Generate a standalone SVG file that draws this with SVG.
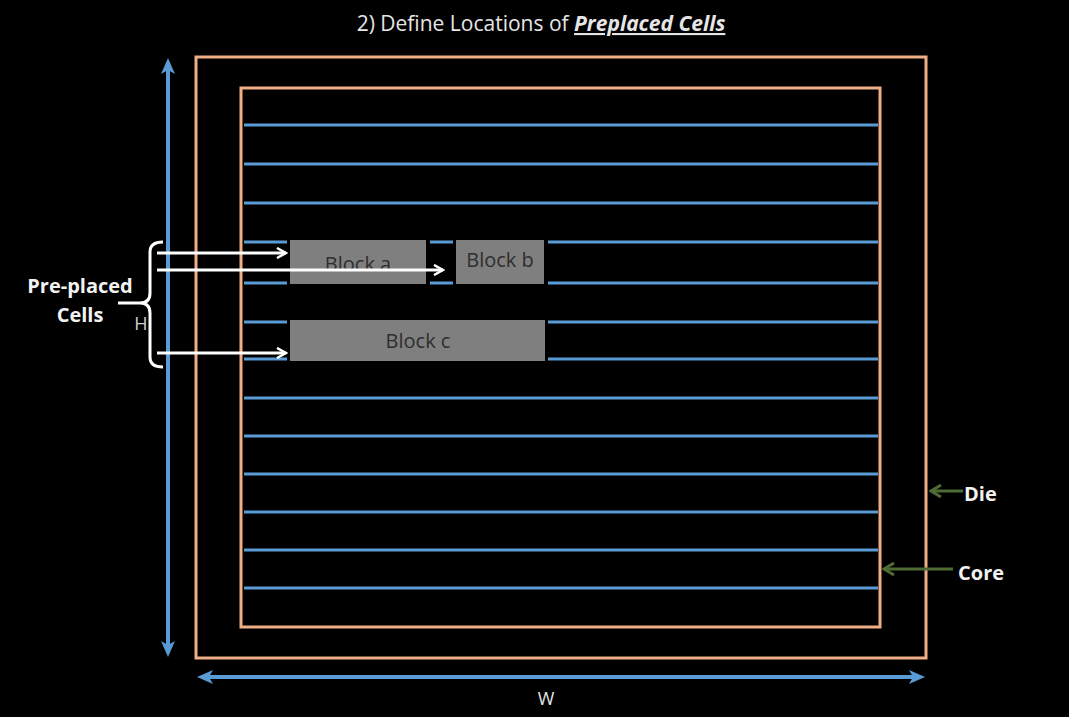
<svg xmlns="http://www.w3.org/2000/svg" width="1069" height="717" viewBox="0 0 1069 717">
<style>
.die{fill:none;stroke:#efae86;stroke-width:3}
.row{stroke:#5b9bd5;stroke-width:3}
.blk{fill:#7f7f7f}
.bt{font-family:"Open Sans","Liberation Sans",sans-serif;font-size:20px;fill:#2e2e2e;text-anchor:middle}
.lbl{font-family:"Open Sans","Liberation Sans",sans-serif;font-weight:bold;font-size:20px;fill:#f2f2f2}
.wa{stroke:#fff;stroke-width:3;fill:none}
.ga{stroke:#4e6b34;stroke-width:3;fill:none}
.dim{stroke:#5b9bd5;stroke-width:4;fill:none}
</style>
<defs>
<marker id="wh" viewBox="0 0 12 12" refX="10" refY="6" markerWidth="12" markerHeight="12" markerUnits="userSpaceOnUse" orient="auto"><path d="M1,1 L10,6 L1,11" fill="none" stroke="#fff" stroke-width="2.5"/></marker>
<marker id="gh" viewBox="0 0 14 14" refX="12" refY="7" markerWidth="14" markerHeight="14" markerUnits="userSpaceOnUse" orient="auto"><path d="M2,1 L12,7 L2,13" fill="none" stroke="#4e6b34" stroke-width="3"/></marker>
</defs>
<rect width="1069" height="717" fill="#000"/>
<text x="541" y="31" font-family="Open Sans,Liberation Sans,sans-serif" font-size="21" fill="#e6e6e6" text-anchor="middle">2) Define Locations of <tspan font-weight="bold" font-style="italic" text-decoration="underline">Preplaced Cells</tspan></text>
<g id="die"><rect class="die" x="196" y="57" width="730" height="601"/></g>
<g id="core"><rect class="die" x="241" y="88" width="639" height="539"/></g>
<g id="rows">
<line class="row" x1="244" y1="125" x2="878" y2="125"/>
<line class="row" x1="244" y1="164" x2="878" y2="164"/>
<line class="row" x1="244" y1="203" x2="878" y2="203"/>
<line class="row" x1="244" y1="242" x2="287" y2="242"/>
<line class="row" x1="430" y1="242" x2="453" y2="242"/>
<line class="row" x1="548" y1="242" x2="878" y2="242"/>
<line class="row" x1="244" y1="283" x2="287" y2="283"/>
<line class="row" x1="430" y1="283" x2="453" y2="283"/>
<line class="row" x1="548" y1="283" x2="878" y2="283"/>
<line class="row" x1="244" y1="322" x2="287" y2="322"/>
<line class="row" x1="548" y1="322" x2="878" y2="322"/>
<line class="row" x1="244" y1="359" x2="287" y2="359"/>
<line class="row" x1="548" y1="359" x2="878" y2="359"/>
<line class="row" x1="244" y1="398" x2="878" y2="398"/>
<line class="row" x1="244" y1="436" x2="878" y2="436"/>
<line class="row" x1="244" y1="474" x2="878" y2="474"/>
<line class="row" x1="244" y1="512" x2="878" y2="512"/>
<line class="row" x1="244" y1="550" x2="878" y2="550"/>
<line class="row" x1="244" y1="588" x2="878" y2="588"/>
</g>
<g id="block-a"><rect class="blk" x="290" y="240" width="136" height="44"/><text class="bt" x="358" y="271">Block a</text></g>
<g id="block-b"><rect class="blk" x="456" y="240" width="88" height="44"/><text class="bt" x="500" y="267">Block b</text></g>
<g id="block-c"><rect class="blk" x="290" y="320" width="255" height="41"/><text class="bt" x="418" y="348">Block c</text></g>
<g id="connectors">
<line class="dim" x1="168" y1="62" x2="168" y2="653"/>
<path d="M168,58 L161,74 L168,70 L175,74 Z" fill="#5b9bd5"/>
<path d="M168,657 L161,641 L168,645 L175,641 Z" fill="#5b9bd5"/>
<line class="dim" x1="202" y1="677" x2="920" y2="677"/>
<path d="M197,677 L213,670 L209,677 L213,684 Z" fill="#5b9bd5"/>
<path d="M925,677 L909,670 L913,677 L909,684 Z" fill="#5b9bd5"/>
<path class="wa" d="M163,242 Q150,242 150,252 L150,293 Q150,303 140,303 Q150,303 150,313 L150,357 Q150,367 163,367" stroke-width="2.5"/>
<line class="wa" x1="118" y1="303" x2="140" y2="303" stroke-width="2.5"/>
<line class="wa" x1="157" y1="253" x2="286" y2="253" marker-end="url(#wh)"/>
<line class="wa" x1="157" y1="270" x2="443" y2="270" marker-end="url(#wh)"/>
<line class="wa" x1="157" y1="353" x2="286" y2="353" marker-end="url(#wh)"/>
<line class="ga" x1="963" y1="491" x2="931" y2="491" marker-end="url(#gh)"/>
<line class="ga" x1="953" y1="569" x2="884" y2="569" marker-end="url(#gh)"/>
</g>
<g id="labels">
<text class="lbl" x="80" y="293" text-anchor="middle">Pre-placed</text>
<text class="lbl" x="80" y="322" text-anchor="middle">Cells</text>
<text x="141" y="330" font-family="Open Sans,Liberation Sans,sans-serif" font-size="18" fill="#cfcfcf" text-anchor="middle">H</text>
<text x="546" y="705" font-family="Open Sans,Liberation Sans,sans-serif" font-size="18" fill="#e6e6e6" text-anchor="middle">W</text>
<text class="lbl" x="964" y="501">Die</text>
<text class="lbl" x="958" y="580">Core</text>
</g>
</svg>
